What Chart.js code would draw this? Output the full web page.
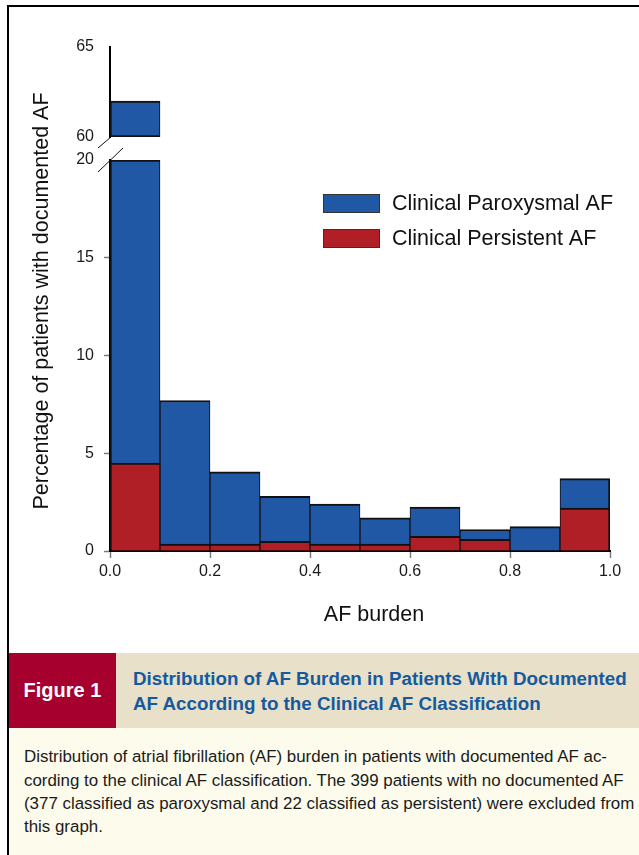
<!DOCTYPE html>
<html>
<head>
<meta charset="utf-8">
<script src="https://cdn.jsdelivr.net/npm/chart.js@4/dist/chart.umd.min.js"></script>
<style>
  html, body { margin: 0; padding: 0; background: #fff; }
  body { width: 639px; height: 855px; position: relative; overflow: hidden; font-family: "Liberation Sans", Arial, sans-serif; }
  #frame { position: absolute; left: 7px; top: 5px; width: 700px; height: 900px; border-top: 2px solid #000; border-left: 2px solid #000; }
  #plot { position: absolute; left: 0; top: 0; width: 639px; height: 650px; }
  #band { position: absolute; left: 9px; top: 653px; width: 630px; height: 75px; background: #e8e0c9; }
  #fig { position: absolute; left: 0; top: 0; width: 107px; height: 75px; background: #a6002f; color: #fff;
         font: bold 20px "Liberation Sans", Arial, sans-serif; display: flex; align-items: center; justify-content: center; }
  #headline { position: absolute; left: 124px; top: 12.5px; color: #155a9e; font: bold 18.8px/25px "Liberation Sans", Arial, sans-serif; white-space: nowrap; }
  #legend-text { position: absolute; left: 9px; top: 728px; width: 630px; height: 127px; background: #fdfbec; }
  #caption { position: absolute; left: 15px; top: 17.3px; color: #1a1a1a; font: 16.9px/23.3px "Liberation Sans", Arial, sans-serif; white-space: nowrap; }
</style>
</head>
<body>
<div id="frame"></div>
<div id="plot"><canvas id="c" width="639" height="650"></canvas></div>
<div id="band">
  <div id="fig">Figure 1</div>
  <div id="headline">Distribution of AF Burden in Patients With Documented<br>AF According to the Clinical AF Classification</div>
</div>
<div id="legend-text">
  <div id="caption">Distribution of atrial fibrillation (AF) burden in patients with documented AF ac-<br>cording to the clinical AF classification. The 399 patients with no documented AF<br>(377 classified as paroxysmal and 22 classified as persistent) were excluded from<br>this graph.</div>
</div>
<script>
// AF burden bins (lower edge of each 0.1-wide bin)
const binStarts = [0.0, 0.1, 0.2, 0.3, 0.4, 0.5, 0.6, 0.7, 0.8, 0.9];
const binWidth = 0.1;
// Percentage of patients per bin
const paroxysmal = [57.5, 7.35, 3.7, 2.3, 2.05, 1.35, 1.5, 0.5, 1.25, 1.5];
const persistent = [4.5, 0.35, 0.35, 0.5, 0.35, 0.35, 0.75, 0.6, 0, 2.2];
// Axis ticks; the value axis is broken between 20 and 60
const xTicks = [0.0, 0.2, 0.4, 0.6, 0.8, 1.0];
const lowerTicks = [0, 5, 10, 15, 20];
const upperTicks = [60, 65];
const lowerMax = 20;
const upperMin = 60;
const upperMax = 65;

const BLUE = '#2158a6';
const RED = '#b01e26';
const EDGE = '#111111';
const FONT = '"Liberation Sans", Arial, sans-serif';

const centers = binStarts.map(b => +(b + binWidth / 2).toFixed(3));
const totals = paroxysmal.map((p, i) => p + persistent[i]);

// lower panel (0-20): stacked persistent + paroxysmal, clipped at the break
const persistentLower = persistent.map((v, i) => ({ x: centers[i], y: Math.min(v, lowerMax) }));
const paroxysmalLower = paroxysmal.map((v, i) => ({ x: centers[i], y: Math.min(totals[i], lowerMax) - Math.min(persistent[i], lowerMax) }));
// upper panel (60-65): the part of a bar that rises above the break
const paroxysmalUpper = totals
  .map((t, i) => (t > upperMin ? { x: centers[i], y: [upperMin, t] } : null))
  .filter(d => d !== null);

const lastIdx = binStarts.length - 1;
const edgeWidths = (top, bottom) => ctx => ({
  top: top, bottom: bottom,
  left: ctx.dataIndex === 0 ? 2 : 1,
  right: ctx.raw && ctx.raw.x === centers[lastIdx] ? 2 : 1
});

const tickFont = { family: FONT, size: 16 };
const tickColor = '#1a1a1a';
const gray = '#7c7c7c';

const fixedWidth = s => { s.width = 110; };

const decorations = {
  id: 'decorations',
  afterDraw(chart) {
    const { ctx, chartArea, scales } = chart;
    const ax = chartArea.left;
    // axis break marks
    const p60 = scales.yTop.getPixelForValue(upperMin);
    const p20 = scales.y.getPixelForValue(lowerMax);
    ctx.save();
    ctx.strokeStyle = '#111';
    ctx.lineWidth = 1;
    ctx.beginPath();
    ctx.moveTo(ax - 12, p60 + 11); ctx.lineTo(ax + 1, p60);
    ctx.moveTo(ax - 12, p20 + 12); ctx.lineTo(ax + 13, p20 - 12);
    ctx.stroke();

    // axis titles
    ctx.fillStyle = '#111';
    ctx.font = '21.5px ' + FONT;
    ctx.textAlign = 'center';
    ctx.textBaseline = 'middle';
    ctx.fillText('AF burden', (chartArea.left + chartArea.right) / 2 + 14, chartArea.bottom + 64);
    ctx.save();
    ctx.translate(42, (chartArea.top + chartArea.bottom) / 2 + 2);
    ctx.rotate(-Math.PI / 2);
    ctx.fillText('Percentage of patients with documented AF', 0, 0);
    ctx.restore();

    // legend
    const items = [chart.data.datasets[1], chart.data.datasets[0]];
    const lx = chartArea.left + 213, ly = chartArea.top + 147;
    items.forEach((ds, k) => {
      const y = ly + k * 35;
      ctx.fillStyle = ds.backgroundColor;
      ctx.fillRect(lx, y, 57, 19);
      ctx.strokeStyle = '#333';
      ctx.lineWidth = 1;
      ctx.strokeRect(lx + 0.5, y + 0.5, 56, 18);
      ctx.fillStyle = '#111';
      ctx.textAlign = 'left';
      ctx.font = '21.5px ' + FONT;
      ctx.fillText(ds.label, lx + 69, y + 10);
    });
    ctx.restore();
  }
};

new Chart(document.getElementById('c'), {
  type: 'bar',
  data: {
    datasets: [
      { label: 'Clinical Persistent AF', data: persistentLower, yAxisID: 'y', backgroundColor: RED,
        borderColor: EDGE, borderWidth: edgeWidths(2, 0), borderSkipped: false },
      { label: 'Clinical Paroxysmal AF', data: paroxysmalLower, yAxisID: 'y', backgroundColor: BLUE,
        borderColor: EDGE, borderWidth: edgeWidths(2, 0), borderSkipped: false },
      { label: 'Clinical Paroxysmal AF', data: paroxysmalUpper, yAxisID: 'yTop', backgroundColor: BLUE,
        borderColor: EDGE, borderWidth: edgeWidths(2, 2), borderSkipped: false }
    ]
  },
  options: {
    responsive: false,
    animation: false,
    devicePixelRatio: 1,
    categoryPercentage: 1,
    barPercentage: 1,
    layout: { padding: { left: 0, top: 47, right: 29, bottom: 0 } },
    plugins: { legend: { display: false }, tooltip: { enabled: false }, title: { display: false } },
    scales: {
      x: {
        type: 'linear', min: 0, max: 1, offset: false, stacked: true,
        afterBuildTicks: s => { s.ticks = xTicks.map(v => ({ value: v })); },
        afterFit: s => { s.height = 99; },
        border: { color: '#000', width: 2 },
        grid: { offset: false, drawOnChartArea: false, tickLength: 7, tickWidth: 1.5, tickColor: gray },
        ticks: { font: tickFont, color: tickColor, padding: 4, maxRotation: 0, callback: v => Number(v).toFixed(1) }
      },
      y: {
        type: 'linear', position: 'left', stack: 'pct', stackWeight: 391,
        min: 0, max: lowerMax, stacked: true,
        afterBuildTicks: s => { s.ticks = lowerTicks.map(v => ({ value: v })); },
        afterFit: fixedWidth,
        border: { color: '#000', width: 2 },
        grid: { drawOnChartArea: false, tickLength: 6, tickWidth: 1.5,
                tickColor: c => (c.tick && c.tick.value === lowerMax ? 'rgba(0,0,0,0)' : gray) },
        ticks: { font: tickFont, color: tickColor, padding: 10 }
      },
      yGap: {
        type: 'linear', position: 'left', stack: 'pct', stackWeight: 23,
        min: 0, max: 1,
        afterFit: fixedWidth,
        border: { display: false },
        grid: { display: false, drawTicks: false },
        ticks: { display: false }
      },
      yTop: {
        type: 'linear', position: 'left', stack: 'pct', stackWeight: 90,
        min: upperMin, max: upperMax,
        afterBuildTicks: s => { s.ticks = upperTicks.map(v => ({ value: v })); },
        afterFit: fixedWidth,
        border: { color: '#000', width: 2 },
        grid: { drawOnChartArea: false, tickLength: 6, tickWidth: 1.5, tickColor: 'rgba(0,0,0,0)' },
        ticks: { font: tickFont, color: tickColor, padding: 10 }
      }
    }
  },
  plugins: [decorations]
});
</script>
</body>
</html>
